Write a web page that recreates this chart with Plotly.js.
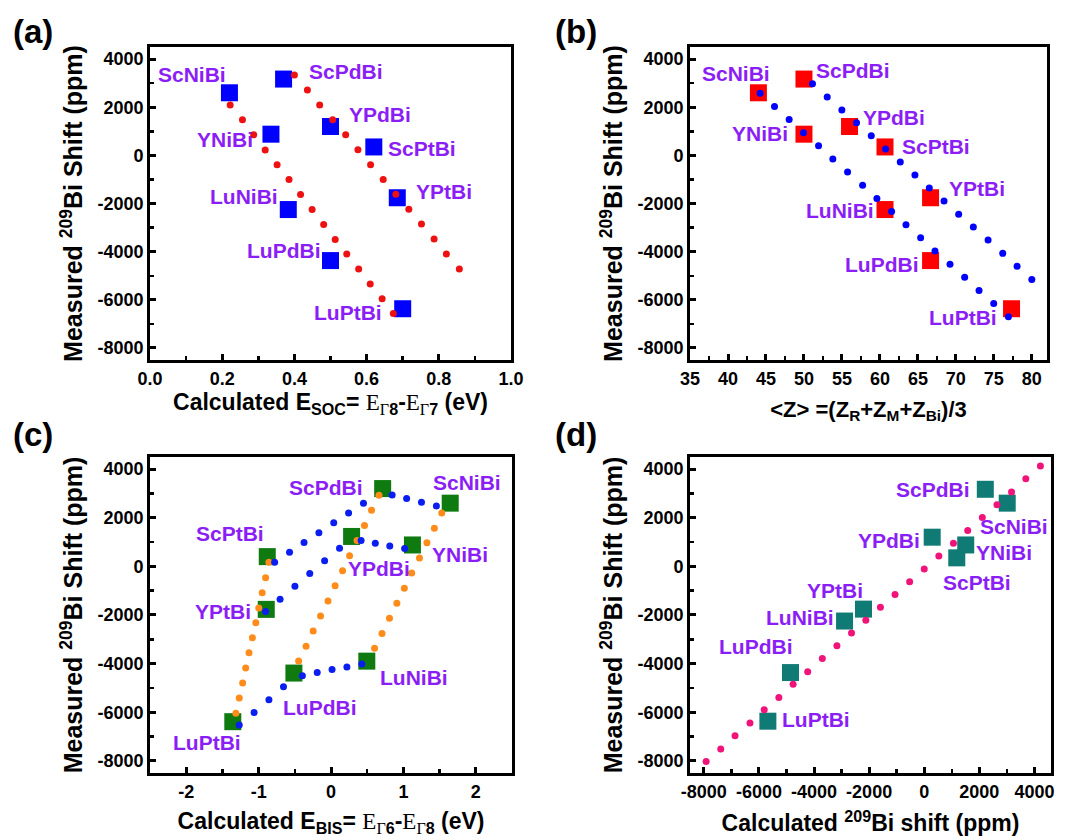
<!DOCTYPE html>
<html>
<head>
<meta charset="utf-8">
<script src="https://cdn.plot.ly/plotly-3.0.1.min.js"></script>
<style>html,body{margin:0;padding:0;background:#fff;}#chart{width:1071px;height:840px;}</style>
</head>
<body>
<div id="chart"></div>
<script>
// ---------- DATA ----------
const compounds = ['ScNiBi','ScPdBi','YPdBi','ScPtBi','YNiBi','YPtBi','LuNiBi','LuPdBi','LuPtBi'];
const measuredShift = [2600, 3170, 1200, 350, 880, -1760, -2250, -4370, -6370];
const measuredShiftC = [2600, 3200, 1230, 400, 880, -1770, -3900, -4390, -6390];

// (a) spin-orbit splitting
const socEnergy = [0.22, 0.37, 0.50, 0.62, 0.335, 0.685, 0.383, 0.50, 0.70];
const socFit1X = [0.222,0.256,0.287,0.319,0.352,0.385,0.417,0.449,0.481,0.513,0.545,0.578,0.610,0.643,0.674];
const socFit1Y = [2097,1476,855,221,-386,-1007,-1628,-2248,-2869,-3490,-4097,-4717,-5338,-5959,-6566];
const socFit2X = [0.400,0.436,0.470,0.506,0.542,0.576,0.611,0.646,0.681,0.717,0.752,0.787,0.821,0.857];
const socFit2Y = [3338,2717,2097,1476,855,234,-386,-1007,-1614,-2234,-2855,-3476,-4097,-4717];

// (b) average atomic number
const avgZ = [44, 50, 56, 60.67, 50, 66.67, 60.67, 66.67, 77.33];
const zFit1X = [44.23,46.12,48.05,49.94,51.92,53.80,55.74,57.72,59.60,61.54,63.43,65.36,67.25,69.23,71.16,73.05,74.98,76.92];
const zFit1Y = [2579,2028,1490,938,400,-152,-690,-1241,-1793,-2331,-2883,-3421,-3972,-4524,-5062,-5614,-6152,-6703];
const zFit2X = [51.12,53.06,54.99,56.92,58.86,60.75,62.68,64.61,66.50,68.44,70.37,72.30,74.24,76.17,78.06,80.0];
const zFit2Y = [2979,2428,1890,1352,814,262,-276,-814,-1352,-1890,-2441,-2979,-3517,-4069,-4607,-5159];

// (c) E_BIS
const bisEnergy = [1.646, 0.713, 0.284, -0.881, 1.124, -0.895, 0.494, -0.513, -1.357];
const bisBlue1X = [-0.779,-0.573,-0.373,-0.168,0.037,0.242,0.448,0.844,1.044,1.249,1.455];
const bisBlue1Y = [166,579,979,1379,1793,2193,2593,2938,2786,2634,2483];
const bisBlue2X = [-0.904,-0.704,-0.499,-0.294,-0.089,0.117,0.415,0.611,0.811,1.016];
const bisBlue2Y = [-1862,-1352,-814,-290,234,745,1062,952,841,731];
const bisBlue3X = [-1.268,-1.063,-0.858,-0.657,-0.396,-0.191,0.014,0.219,0.424];
const bisBlue3Y = [-6524,-6014,-5490,-4952,-4497,-4372,-4248,-4138,-4014];
const bisOrangeAX = [-1.315,-1.268,-1.221,-1.179,-1.133,-1.086,-1.039,-0.998,-0.951,-0.904,-0.858];
const bisOrangeAY = [-6041,-5421,-4800,-4179,-3559,-2938,-2317,-1710,-1090,-469,166];
const bisOrangeBX = [-0.448,-0.345,-0.247,-0.145,-0.042,0.056,0.159,0.256,0.359,0.462,0.559,0.662];
const bisOrangeBY = [-3890,-3283,-2662,-2041,-1421,-800,-179,441,1062,1683,2303,2924];
const bisOrangeCX = [0.601,0.704,0.807,0.909,1.012,1.114,1.221,1.324,1.427,1.529];
const bisOrangeCY = [-3366,-2759,-2138,-1517,-897,-276,345,966,1572,2193];

// (d) calculated shift
const calcShift = [3012, 2217, 289, 1181, 1506, -2205, -2892, -4855, -5675];
const calcFitX = [-8446,-7916,-7386,-6867,-6325,-5807,-5277,-4759,-4229,-3699,-3169,-2639,-2120,-1590,-1060,-530,0,530,1060,1578,2108,2639,3169,3687,4217];
const calcFitY = [-8552,-8028,-7517,-6966,-6441,-5903,-5393,-4855,-4331,-3793,-3269,-2745,-2221,-1683,-1159,-634,-110,428,952,1476,2014,2538,3062,3600,4124];

// tick labels
const shiftTickVals = [-8000,-6000,-4000,-2000,0,2000,4000];
const shiftTickText = ['-8000','-6000','-4000','-2000','0','2000','4000'];
const socTickVals = [0,0.2,0.4,0.6,0.8,1.0];
const socTickText = ['0.0','0.2','0.4','0.6','0.8','1.0'];
const zTickVals = [35,40,45,50,55,60,65,70,75,80];
const zTickText = ['35','40','45','50','55','60','65','70','75','80'];
const bisTickVals = [-2,-1,0,1,2];
const bisTickText = ['-2','-1','0','1','2'];
const calcTickVals = [-8000,-6000,-4000,-2000,0,2000,4000];
const calcTickText = ['-8000','-6000','-4000','-2000','0','2000','4000'];

// label anchor positions (layout)
const aLabX = [0.116,0.542,0.637,0.753,0.208,0.815,0.259,0.372,0.548];
const aLabY = [3352,3490,1683,276,648,-1517,-1724,-3959,-6510];
const bLabX = [41.0,56.48,61.89,67.38,44.23,72.79,54.73,60.26,70.90];
const bLabY = [3407,3517,1559,386,897,-1379,-2303,-4524,-6717];
const cLabX = [1.874,-0.065,0.667,-1.394,1.786,-1.487,1.147,-0.159,-1.720];
const cLabY = [3448,3228,-69,1338,469,-1876,-4552,-5793,-7255];
const dLabX = [3241,325,-1277,1916,2892,-3253,-4494,-6120,-3928];
const dLabY = [1628,3172,1076,-648,552,-1007,-2097,-3310,-6317];

// ---------- STYLE ----------
const SANS = 'Liberation Sans, Arial, sans-serif';
const SERIF = 'Liberation Serif, Times New Roman, serif';
const PURPLE = '#8B1EF5';

function sq(x, y, color, xa, ya) {
  return {x: x, y: y, xaxis: xa, yaxis: ya, type: 'scatter', mode: 'markers',
    marker: {symbol: 'square', size: 17, color: color, line: {width: 0}}, hoverinfo: 'skip', showlegend: false};
}
function dots(x, y, color, xa, ya) {
  return {x: x, y: y, xaxis: xa, yaxis: ya, type: 'scatter', mode: 'markers', cliponaxis: false,
    marker: {symbol: 'circle', size: 7, color: color, line: {width: 0}}, hoverinfo: 'skip', showlegend: false};
}

const traces = [
  sq(socEnergy, measuredShift, '#0000FF', 'x', 'y'),
  dots(socFit1X, socFit1Y, '#EE1111', 'x', 'y'),
  dots(socFit2X, socFit2Y, '#EE1111', 'x', 'y'),
  sq(avgZ, measuredShift, '#FF0000', 'x2', 'y2'),
  dots(zFit1X, zFit1Y, '#0000FF', 'x2', 'y2'),
  dots(zFit2X, zFit2Y, '#0000FF', 'x2', 'y2'),
  sq(bisEnergy, measuredShiftC, '#0E7A10', 'x3', 'y3'),
  dots(bisOrangeAX, bisOrangeAY, '#FF8C1A', 'x3', 'y3'),
  dots(bisOrangeBX, bisOrangeBY, '#FF8C1A', 'x3', 'y3'),
  dots(bisOrangeCX, bisOrangeCY, '#FF8C1A', 'x3', 'y3'),
  dots(bisBlue1X, bisBlue1Y, '#0A1EF0', 'x3', 'y3'),
  dots(bisBlue2X, bisBlue2Y, '#0A1EF0', 'x3', 'y3'),
  dots(bisBlue3X, bisBlue3Y, '#0A1EF0', 'x3', 'y3'),
  sq(calcShift, measuredShift, '#107A74', 'x4', 'y4'),
  dots(calcFitX, calcFitY, '#F0147A', 'x4', 'y4')
];

function axisBase(domain, range, tv, tt, minorDtick, minorTick0, anchor, title, standoff, titleSize) {
  return {
    domain: domain, range: range, anchor: anchor, layer: 'below traces',
    tickmode: 'array', tickvals: tv, ticktext: tt,
    showline: true, linewidth: 3, linecolor: '#000', mirror: true,
    ticks: 'inside', ticklen: 6, tickwidth: 3, tickcolor: '#000',
    showgrid: false, zeroline: false, automargin: false,
    tickfont: {family: SANS, size: 18, weight: 700, color: '#000'},
    minor: {ticks: 'inside', ticklen: 4, tickwidth: 2.5, tickcolor: '#000', showgrid: false, dtick: minorDtick, tick0: minorTick0},
    title: {text: title, font: {family: SANS, size: titleSize, weight: 700, color: '#000'}, standoff: standoff}
  };
}

const yTitle = 'Measured <sup>209</sup>Bi Shift (ppm)';
const serifE = '<span style="font-family:' + SERIF + ';font-weight:normal">E</span>';
const serifG = '<span style="font-family:' + SERIF + ';font-weight:normal">Γ</span>';
const socTitle = 'Calculated E<sub>SOC</sub>= ' + serifE + '<sub>' + serifG + '8</sub>-' + serifE + '<sub>' + serifG + '7</sub> (eV)';
const bisTitle = 'Calculated E<sub>BIS</sub>= ' + serifE + '<sub>' + serifG + '6</sub>-' + serifE + '<sub>' + serifG + '8</sub> (eV)';
const zTitle = '&lt;Z&gt; =(Z<sub>R</sub>+Z<sub>M</sub>+Z<sub>Bi</sub>)/3';
const dTitle = 'Calculated <sup>209</sup>Bi shift (ppm)';

const domA_x = [0.1401, 0.4771], domB_x = [0.6443, 0.9776];
const domC_x = [0.1401, 0.4781], domD_x = [0.6443, 0.9813];
const domTop_y = [0.5714, 0.9440], domBot_y = [0.0798, 0.4560];
const yRange = [-8500, 4500];

const layout = {
  width: 1071, height: 840,
  margin: {l: 0, r: 0, t: 0, b: 0},
  paper_bgcolor: '#fff', plot_bgcolor: '#fff',
  showlegend: false,
  xaxis: axisBase(domA_x, [0, 1], socTickVals, socTickText, 0.1, 0, 'y', socTitle, 7, 23),
  yaxis: axisBase(domTop_y, yRange, shiftTickVals, shiftTickText, 1000, 0, 'x', yTitle, 8, 25),
  xaxis2: axisBase(domB_x, [35, 82], zTickVals, zTickText, 2.5, 35, 'y2', zTitle, 14, 22),
  yaxis2: axisBase(domTop_y, yRange, shiftTickVals, shiftTickText, 1000, 0, 'x2', yTitle, 8, 25),
  xaxis3: axisBase(domC_x, [-2.5, 2.5], bisTickVals, bisTickText, 0.5, 0, 'y3', bisTitle, 13, 23),
  yaxis3: axisBase(domBot_y, yRange, shiftTickVals, shiftTickText, 1000, 0, 'x3', yTitle, 8, 25),
  xaxis4: axisBase(domD_x, [-8500, 4600], calcTickVals, calcTickText, 1000, 0, 'y4', dTitle, 15, 23),
  yaxis4: axisBase(domBot_y, yRange, shiftTickVals, shiftTickText, 1000, 0, 'x4', yTitle, 8, 25),
  annotations: []
};

function addLabels(xs, ys, xref, yref) {
  compounds.forEach(function (name, i) {
    layout.annotations.push({x: xs[i], y: ys[i], xref: xref, yref: yref, text: name, showarrow: false,
      xanchor: 'center', yanchor: 'middle', font: {family: SANS, size: 21, weight: 700, color: PURPLE}});
  });
}
addLabels(aLabX, aLabY, 'x', 'y');
addLabels(bLabX, bLabY, 'x2', 'y2');
addLabels(cLabX, cLabY, 'x3', 'y3');
addLabels(dLabX, dLabY, 'x4', 'y4');

const panelLetters = ['(a)', '(b)', '(c)', '(d)'];
const letterX = [0.031, 0.5375, 0.031, 0.5375];
const letterY = [0.962, 0.962, 0.483, 0.483];
panelLetters.forEach(function (t, i) {
  layout.annotations.push({x: letterX[i], y: letterY[i], xref: 'paper', yref: 'paper', text: t, showarrow: false,
    xanchor: 'center', yanchor: 'middle', font: {family: SANS, size: 33, weight: 700, color: '#000'}});
});

Plotly.newPlot('chart', traces, layout, {staticPlot: true, displayModeBar: false});
</script>
</body>
</html>
